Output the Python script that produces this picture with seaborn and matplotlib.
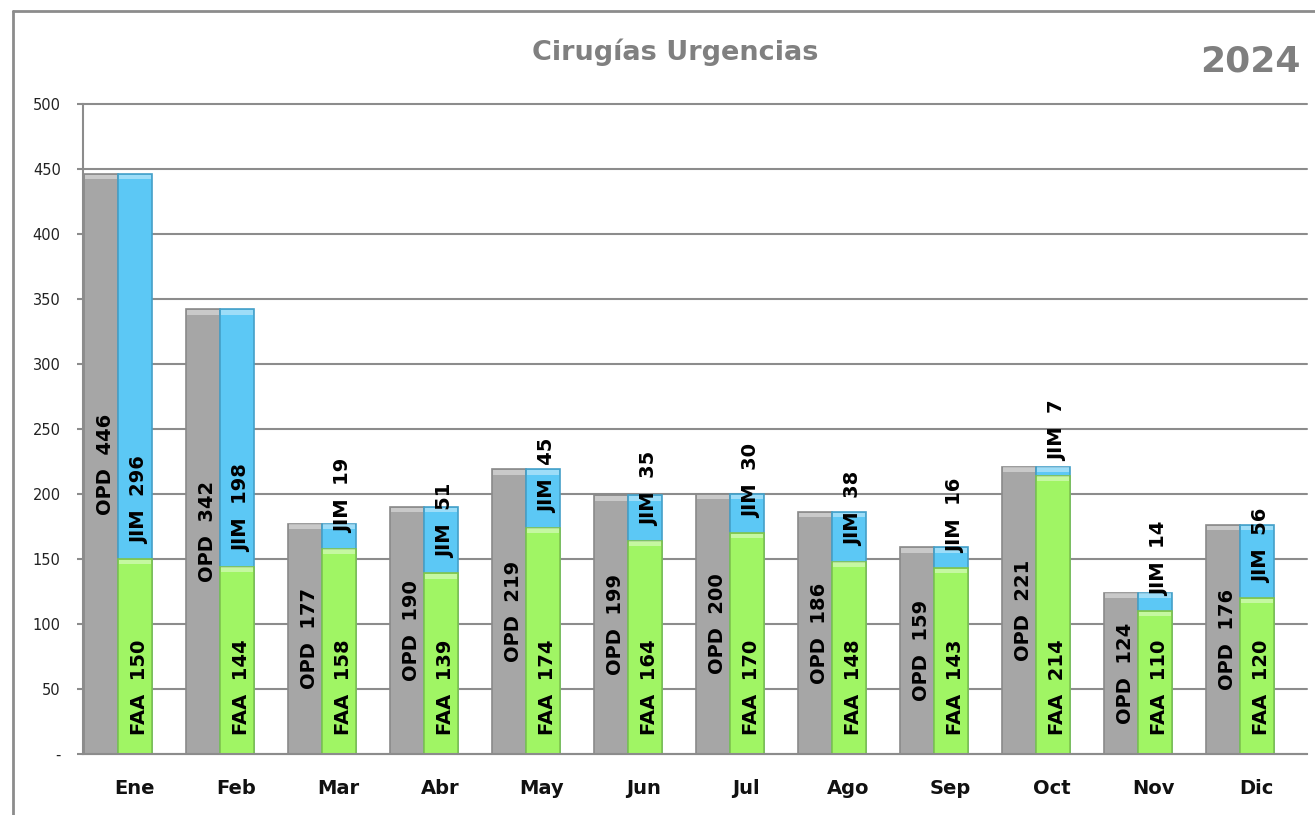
import matplotlib
matplotlib.use("Agg")
import matplotlib.pyplot as plt
from matplotlib.lines import Line2D
from matplotlib.ticker import FixedLocator
import seaborn as sns
import pandas as pd
import numpy as np

meses = ["Ene", "Feb", "Mar", "Abr", "May", "Jun", "Jul", "Ago", "Sep", "Oct", "Nov", "Dic"]
opd = [446, 342, 177, 190, 219, 199, 200, 186, 159, 221, 124, 176]
faa = [150, 144, 158, 139, 174, 164, 170, 148, 143, 214, 110, 120]
jim = [296, 198, 19, 51, 45, 35, 30, 38, 16, 7, 14, 56]
yticks = [0, 50, 100, 150, 200, 250, 300, 350, 400, 450, 500]
ytick_labels = ["-", "50", "100", "150", "200", "250", "300", "350", "400", "450", "500"]
titulo = "Cirugías Urgencias"
anio = "2024"

df = pd.DataFrame({"mes": meses, "OPD": opd, "FAA": faa, "JIM": jim})
df["TOTAL"] = df["FAA"] + df["JIM"]

sns.set_style("white")
plt.rcParams["font.family"] = ["DejaVu Sans"]

GRAY = "#a6a6a6"
GRAY_E = "#8a8a8a"
GREEN = "#a0f564"
GREEN_E = "#7fc24e"
BLUE = "#5cc8f5"
BLUE_E = "#45a0c8"
AXC = "#8c8c8c"

fig = plt.figure(figsize=(13.15, 8.15), dpi=100)
ax = fig.add_axes([83 / 1315, 61 / 815, (1307 - 83) / 1315, 650 / 815])

W = 0.335
def draw(col, color, ec, shift):
    n0 = len(ax.patches)
    sns.barplot(data=df, x="mes", y=col, color=color, width=W, saturation=1,
                edgecolor=ec, linewidth=1.2, ax=ax, zorder=3)
    for p in ax.patches[n0:]:
        p.set_x(p.get_x() + shift)

draw("OPD", GRAY, GRAY_E, -0.3225)
draw("TOTAL", BLUE, BLUE_E, 0.0125)
draw("FAA", GREEN, GREEN_E, 0.0125)

# bevel highlight on bar tops
for p in list(ax.patches):
    x0, w, h = p.get_x(), p.get_width(), p.get_height()
    if h <= 0:
        continue
    y_top = p.get_y() + h
    ax.fill_between([x0 + 0.01, x0 + w - 0.01], y_top - 4, y_top - 0.4,
                    color="white", alpha=0.4, zorder=4, linewidth=0)

ax.set_xlim(-0.5, 11.5)
ax.set_ylim(0, 500)
ax.set_yticks(yticks)
ax.set_yticklabels(ytick_labels, fontsize=10.5, color="#222222")
ax.set_xlabel("")
ax.set_ylabel("")
ax.set_xticks(range(len(meses)))
ax.set_xticklabels(meses, fontsize=14, fontweight="bold", color="#111111")
ax.xaxis.set_minor_locator(FixedLocator(np.arange(-0.5, 12, 1)))
ax.tick_params(axis="x", which="major", length=0, pad=18)
ax.tick_params(axis="x", which="minor", length=6, width=1.5, color=AXC, direction="out")
ax.tick_params(axis="y", which="major", length=4, width=1.5, color=AXC, direction="out", pad=12, left=True)

ax.grid(axis="y", color=AXC, linewidth=1.5, zorder=0)
ax.set_axisbelow(True)
for gl in ax.get_ygridlines():
    gl.set_clip_on(False)
for s in ["top", "right"]:
    ax.spines[s].set_visible(False)
for s in ["left", "bottom"]:
    ax.spines[s].set_color(AXC)
    ax.spines[s].set_linewidth(1.5)
    ax.spines[s].set_zorder(5)

# labels
for i in range(len(meses)):
    xo = i - 0.3225
    xs = i + 0.0125
    ax.annotate(f"OPD  {opd[i]}", (xo, opd[i] / 2), xytext=(3, 0), textcoords="offset points",
                rotation=90, ha="center", va="center", fontsize=14, fontweight="bold",
                color="black", zorder=6)
    ax.annotate(f"FAA  {faa[i]}", (xs, 0), xytext=(3, 13.5), textcoords="offset points",
                rotation=90, ha="center", va="bottom", fontsize=14, fontweight="bold",
                color="black", zorder=6)
    ax.annotate(f"JIM  {jim[i]}", (xs, faa[i]), xytext=(3, 11), textcoords="offset points",
                rotation=90, ha="center", va="bottom", fontsize=14, fontweight="bold",
                color="black", zorder=6)

fig.text(675 / 1315, 1 - 52 / 815, titulo, ha="center", va="center", fontsize=19.5,
         fontweight="bold", color="#808080")
fig.text(1250 / 1315, 1 - 62 / 815, anio, ha="center", va="center", fontsize=26,
         fontweight="bold", color="#7f7f7f")

# outer frame (left and top lines)
fig.add_artist(Line2D([13 / 1315, 13 / 1315], [0, 1 - 11 / 815], color="#8c8c8c", linewidth=2))
fig.add_artist(Line2D([13 / 1315, 1], [1 - 11 / 815, 1 - 11 / 815], color="#8c8c8c", linewidth=2))

fig.savefig("out.png", dpi=100)
